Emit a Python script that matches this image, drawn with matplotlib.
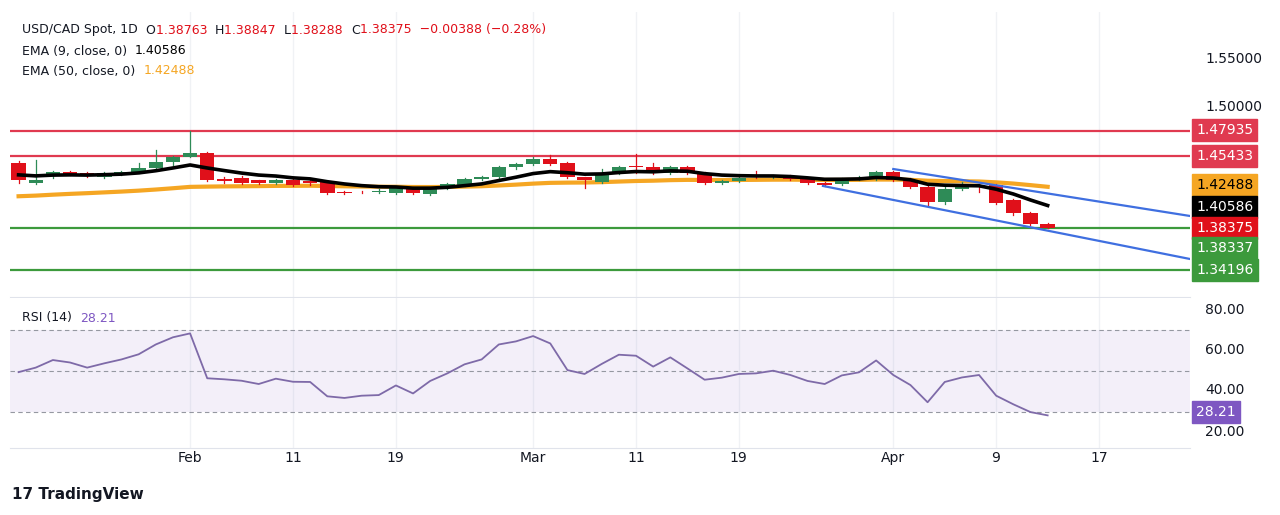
import matplotlib
matplotlib.use("Agg")
import matplotlib.pyplot as plt
from matplotlib.patches import Rectangle
import numpy as np

opens = [1.4475,1.4278,1.4346,1.4386,1.4376,1.4336,1.4366,1.4386,1.4425,1.4484,1.4534,1.4573,1.4317,1.4327,1.4307,1.4280,
         1.4307,1.4297,1.4287,1.4189,1.4192,1.4190,1.4179,1.4228,1.4169,1.4228,1.4257,1.4317,1.4336,1.4435,1.4465,1.4514,
         1.4475,1.4336,1.4287,1.4376,1.4440,1.4435,1.4376,1.4435,1.4376,1.4277,1.4297,1.4346,1.4336,1.4346,1.4317,1.4277,
         1.4267,1.4317,1.4317,1.4386,1.4307,1.4238,1.4090,1.4218,1.4250,1.4257,1.4109,1.3981,1.38763]
highs = [1.4490,1.4504,1.4395,1.4400,1.4386,1.4390,1.4400,1.4475,1.4603,1.4540,1.4790,1.4580,1.4340,1.4350,1.4310,1.4315,
         1.4315,1.4310,1.4295,1.4195,1.4200,1.4215,1.4235,1.4235,1.4235,1.4275,1.4325,1.4350,1.4440,1.4475,1.4530,1.4553,
         1.4480,1.4340,1.4420,1.4445,1.4560,1.4470,1.4445,1.4445,1.4385,1.4305,1.4335,1.4400,1.4355,1.4355,1.4325,1.4285,
         1.4325,1.4345,1.4400,1.4400,1.4330,1.4245,1.4240,1.4290,1.4270,1.4265,1.4115,1.3990,1.38847]
lows = [1.4280,1.4268,1.4330,1.4356,1.4336,1.4330,1.4360,1.4380,1.4420,1.4455,1.4530,1.4300,1.4280,1.4270,1.4270,1.4270,
        1.4250,1.4260,1.4170,1.4170,1.4175,1.4180,1.4170,1.4170,1.4160,1.4220,1.4250,1.4305,1.4330,1.4420,1.4455,1.4455,
        1.4330,1.4228,1.4280,1.4370,1.4376,1.4370,1.4370,1.4370,1.4270,1.4270,1.4290,1.4330,1.4330,1.4310,1.4270,1.4250,
        1.4255,1.4305,1.4310,1.4300,1.4230,1.4060,1.4070,1.4210,1.4190,1.4070,1.3960,1.3860,1.38288]
closes = [1.4307,1.4307,1.4386,1.4366,1.4346,1.4376,1.4386,1.4425,1.4484,1.4534,1.4573,1.4307,1.4297,1.4277,1.4277,1.4307,
          1.4257,1.4277,1.4179,1.4179,1.4185,1.4198,1.4228,1.4179,1.4228,1.4267,1.4317,1.4336,1.4435,1.4465,1.4514,1.4465,
          1.4336,1.4307,1.4376,1.4435,1.4430,1.4376,1.4435,1.4376,1.4277,1.4297,1.4327,1.4336,1.4346,1.4317,1.4277,1.4257,
          1.4317,1.4330,1.4386,1.4307,1.4238,1.4090,1.4218,1.4238,1.4240,1.4080,1.3981,1.3873,1.38375]
rsi = [49.3,51.5,55.2,54,51.5,53.6,55.5,58,62.8,66.3,68.2,46.3,45.8,45.1,43.5,46.1,44.6,44.5,37.5,36.7,37.8,38.1,42.8,38.9,
       45,48.7,53.1,55.5,62.8,64.3,66.9,63.3,50.3,48.4,53.3,57.8,57.3,52,56.5,51.1,45.6,46.6,48.4,48.7,50,47.9,45,43.5,
       47.7,49.2,55,47.9,43,34.6,44.5,46.7,47.9,37.8,33.6,29.8,28.2]
ema9_seed = 1.4370
ema50_seed = 1.4140
red_levels = [1.47935, 1.45433]
green_levels = [1.38337, 1.34196]
chan_upper_x = [51.0, 68.3]; chan_upper_y = [1.4415, 1.3952]
chan_lower_x = [46.9, 68.3]; chan_lower_y = [1.4248, 1.3528]
tick_idx = [10, 16, 22, 30, 36, 42, 51, 57, 63]
tick_lbl = ["Feb", "11", "19", "Mar", "11", "19", "Apr", "9", "17"]

def ema(vals, n, seed):
    a = 2 / (n + 1); out = []; e = seed
    for v in vals:
        e = a * v + (1 - a) * e; out.append(e)
    return out

ema9 = ema(closes, 9, ema9_seed)
ema50 = ema(closes, 50, ema50_seed)

W, H = 1280, 515
fig = plt.figure(figsize=(12.8, 5.15), dpi=100)
fig.patch.set_facecolor("white")
def ax_rect(x0, y0, x1, y1):
    return [x0 / W, 1 - y1 / H, (x1 - x0) / W, (y1 - y0) / H]
ax = fig.add_axes(ax_rect(10, 12, 1190, 297))
ax2 = fig.add_axes(ax_rect(10, 298, 1190, 448))
XL = (-0.5, 68.3)
for a in (ax, ax2):
    a.set_xlim(*XL)
    for s in a.spines.values(): s.set_visible(False)
    a.set_yticks([]); a.set_xticks([])
    for t in tick_idx:
        a.axvline(t, color="#f0f2f5", lw=1, zorder=0)
ax.spines["bottom"].set_visible(True); ax.spines["bottom"].set_color("#e0e3eb")
ax2.spines["bottom"].set_visible(True); ax2.spines["bottom"].set_color("#e0e3eb")
ax.set_ylim(1.3173 - 2 / 1014, 1.5963)
ax2.set_ylim(11.3 + 2 / 2.05, 84.5 + 2 / 2.05)

GREEN, RED = "#2e8b57", "#e0101a"
for i in range(len(closes)):
    o, c, h, l = opens[i], closes[i], highs[i], lows[i]
    col = GREEN if c >= o else RED
    ax.plot([i, i], [l, h], color=col, lw=0.9, zorder=3)
    ax.add_patch(Rectangle((i - 0.42, min(o, c)), 0.84, max(abs(c - o), 0.0004), color=col, zorder=4, lw=0))
x = np.arange(len(closes))
ax.plot(x, ema50, color="#f5a623", lw=3, zorder=2)
ax.plot(x, ema9, color="black", lw=2.6, zorder=5)
for lv in red_levels:
    ax.axhline(lv, color="#e03a50", lw=1.6, zorder=1)
for lv in green_levels:
    ax.axhline(lv, color="#3c9a3c", lw=1.6, zorder=1)
ax.plot(chan_upper_x, chan_upper_y, color="#3f6fe0", lw=1.6, zorder=6)
ax.plot(chan_lower_x, chan_lower_y, color="#3f6fe0", lw=1.6, zorder=6)

ax2.axhspan(30, 70, color="#7e57c2", alpha=0.09, lw=0)
for lv in (70, 50, 30):
    ax2.axhline(lv, color="#9598a1", lw=0.8, ls=(0, (4, 3)))
ax2.plot(x, rsi, color="#7e6aa8", lw=1.3)

for t, lb in zip(tick_idx, tick_lbl):
    fig.text((18.5 + 17.15 * t) / W, 1 - 458 / H, lb, ha="center", va="center", fontsize=10, color="#131722")

def rlabel(y, text, bg=None, fg="#131722"):
    if bg:
        fig.text(1196 / W, 1 - y / H, text, ha="left", va="center", fontsize=10, color=fg,
                 bbox=dict(boxstyle="square,pad=0.3", fc=bg, ec=bg))
    else:
        fig.text(1205 / W, 1 - y / H, text, ha="left", va="center", fontsize=10, color=fg)
rlabel(59, "1.55000"); rlabel(107, "1.50000")
rlabel(130, "1.47935", "#e03a50", "white"); rlabel(156, "1.45433", "#e03a50", "white")
rlabel(185, "1.42488", "#f5a623", "black"); rlabel(207, "1.40586", "black", "white")
rlabel(228, "1.38375", "#e0101a", "white"); rlabel(248, "1.38337", "#3c9a3c", "white")
rlabel(270, "1.34196", "#3c9a3c", "white")
rlabel(310, "80.00"); rlabel(350, "60.00"); rlabel(390, "40.00"); rlabel(432, "20.00")
rlabel(412, "28.21", "#7e57c2", "white")

renderer = fig.canvas.get_renderer()
def seq(y, parts, x0=22, fs=9):
    xp = x0
    for txt, col in parts:
        t = fig.text(xp / W, 1 - y / H, txt, fontsize=fs, va="center", color=col)
        xp = t.get_window_extent(renderer).x1
seq(30, [("USD/CAD Spot, 1D  ", "#131722"), ("O", "#131722"), ("1.38763  ", "#e0101a"),
         ("H", "#131722"), ("1.38847  ", "#e0101a"), ("L", "#131722"), ("1.38288  ", "#e0101a"),
         ("C", "#131722"), ("1.38375  \u22120.00388 (\u22120.28%)", "#e0101a")])
seq(51, [("EMA (9, close, 0)  ", "#131722"), ("1.40586", "black")])
seq(71, [("EMA (50, close, 0)  ", "#131722"), ("1.42488", "#f5a623")])
seq(318, [("RSI (14)  ", "#131722"), ("28.21", "#7e57c2")])
fig.text(12 / W, 1 - 494 / H, "17 TradingView", fontsize=11, fontweight="bold", va="center", color="#131722")

fig.savefig("out.png", dpi=100)
